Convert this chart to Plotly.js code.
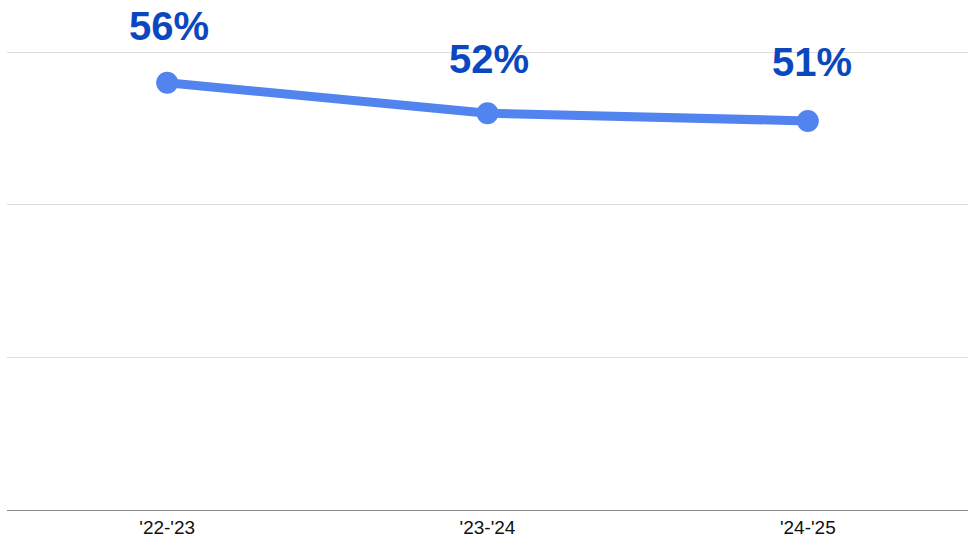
<!DOCTYPE html>
<html>
<head>
<meta charset="utf-8">
<script src="https://cdn.plot.ly/plotly-3.0.1.min.js"></script>
<style>html,body{margin:0;padding:0;background:#fff;}#chart{width:976px;height:550px;}</style>
</head>
<body>
<div id="chart"></div>
<script>
const categories = ["'22-'23", "'23-'24", "'24-'25"];
const values = [56, 52, 51];
const labels = ["56%", "52%", "51%"];

// label placement offsets (styling only)
const labelYShift = [57, 54, 59];
const labelXShift = [2, 1, 4];

const trace = {
  x: categories,
  y: values,
  type: 'scatter',
  mode: 'lines+markers',
  line: {color: '#5284f0', width: 9},
  marker: {color: '#5284f0', size: 22},
  hoverinfo: 'none',
  cliponaxis: false
};

const annotations = categories.map((c, i) => ({
  x: c, y: values[i], xref: 'x', yref: 'y',
  text: labels[i], showarrow: false,
  yshift: labelYShift[i], xshift: labelXShift[i],
  font: {family: 'Liberation Sans, Arial, sans-serif', size: 40, color: '#0b48c0', weight: 'bold'}
}));

const layout = {
  width: 976, height: 550,
  margin: {l: 7, r: 8, t: 37, b: 40},
  paper_bgcolor: '#fff', plot_bgcolor: '#fff',
  showlegend: false,
  xaxis: {
    type: 'category', range: [-0.5, 2.5],
    showgrid: false, zeroline: false,
    showline: true, linecolor: '#8a8a8a', linewidth: 1,
    ticks: '', tickfont: {family: 'Liberation Sans, Arial, sans-serif', size: 19, color: '#111'},
    fixedrange: true
  },
  yaxis: {
    range: [0, 62], dtick: 20, tick0: 0,
    showgrid: true, gridcolor: '#dcdcdc', gridwidth: 1,
    zeroline: false, showticklabels: false, ticks: '',
    fixedrange: true
  },
  annotations: annotations
};

Plotly.newPlot('chart', [trace], layout, {displayModeBar: false, staticPlot: true});
</script>
</body>
</html>
